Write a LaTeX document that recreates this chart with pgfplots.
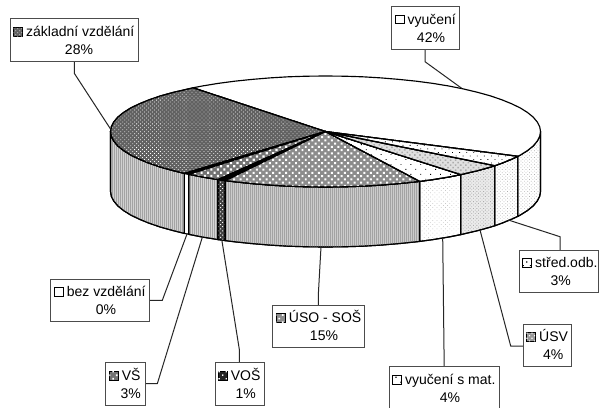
\documentclass[border=0pt]{standalone}
\usepackage{fontspec}
\setmainfont{Liberation Sans}
\usepackage{pgfplots}
\pgfplotsset{compat=1.18}
\usetikzlibrary{patterns,patterns.meta}
\tikzset{
 edge/.style={draw=black,line width=1.15pt,line join=round},
 box/.style={draw=black!70,line width=1pt,fill=white},
 lead/.style={draw=black!85,line width=1pt,line join=miter},
 key/.style={draw=black,line width=0.9pt},
 blackdots/.style 2 args={pattern={Dots[radius=#1,distance=#2,angle=45]},pattern color=black},
 whitedots/.style 2 args={pattern={Dots[radius=#1,distance=#2,angle=45]},pattern color=white},
 greydots/.style 2 args={pattern={Dots[radius=#1,distance=#2,angle=45]},pattern color=black!32},
 vstripes/.style={pattern={Lines[angle=90,distance=2pt,line width=0.9pt]},pattern color=black!36},
 txt/.style={font=\fontsize{14}{16}\selectfont,inner sep=0pt,anchor=base west},
 txc/.style={font=\fontsize{14}{16}\selectfont,inner sep=0pt,anchor=base},
}
\pgfplotsset{
 side/.style={edge,fill=#1},
 cap/.style={edge,fill=#1},
}
\begin{document}
\begin{tikzpicture}
\begin{axis}[width=599pt,height=407pt,scale only axis,xmin=0,xmax=599,ymin=0,ymax=407,y dir=reverse,axis lines=none,clip=true]
% background
\addplot[draw=none,fill=white,forget plot] coordinates {(0,0)(599,0)(599,407)(0,407)} \closedcycle;
% sides
\addplot[side=black!18,postaction={vstripes},forget plot] coordinates {(110.5,131.5)(111.3,136.3)(113.8,141.1)(117.8,145.9)(123.5,150.5)(130.6,155)(139.3,159.2)(149.4,163.3)(160.8,167.2)(173.5,170.7)(184.4,173.4)(184.4,233.4)(173.5,230.7)(160.8,227.2)(149.4,223.3)(139.3,219.2)(130.6,215)(123.5,210.5)(117.8,205.9)(113.8,201.1)(111.3,196.3)(110.5,191.5)} --cycle;
\addplot[side=white,forget plot] coordinates {(184.4,173.4)(188.7,174.3)(188.7,234.3)(184.4,233.4)} --cycle;
\addplot[side=black!16,postaction={vstripes},forget plot] coordinates {(188.7,174.3)(202.2,177)(218,179.6)(218,239.6)(202.2,237)(188.7,234.3)} --cycle;
\addplot[side=black!75,postaction={whitedots={0.7pt}{3pt}},forget plot] coordinates {(218,179.6)(225.2,180.6)(225.2,240.6)(218,239.6)} --cycle;
\addplot[side=black!20,postaction={vstripes},forget plot] coordinates {(225.2,180.6)(234.6,181.8)(252,183.6)(269.9,185.1)(288.2,186.2)(306.8,186.8)(325.5,187)(344.2,186.8)(362.8,186.2)(381.1,185.1)(399,183.6)(416.4,181.8)(419.8,181.4)(419.8,241.4)(416.4,241.8)(399,243.6)(381.1,245.1)(362.8,246.2)(344.2,246.8)(325.5,247)(306.8,246.8)(288.2,246.2)(269.9,245.1)(252,243.6)(234.6,241.8)(225.2,240.6)} --cycle;
\addplot[side=white,postaction={greydots={0.4pt}{3pt}},forget plot] coordinates {(419.8,181.4)(433,179.6)(448.8,177)(460.8,174.6)(460.8,234.6)(448.8,237)(433,239.6)(419.8,241.4)} --cycle;
\addplot[side=black!8,postaction={greydots={0.6pt}{2.4pt}},forget plot] coordinates {(460.8,174.6)(477.5,170.7)(490.2,167.2)(494.9,165.7)(494.9,225.7)(490.2,227.2)(477.5,230.7)(460.8,234.6)} --cycle;
\addplot[side=white,postaction={greydots={0.5pt}{2.4pt}},forget plot] coordinates {(494.9,165.7)(501.6,163.3)(511.7,159.2)(517.9,156.3)(517.9,216.3)(511.7,219.2)(501.6,223.3)(494.9,225.7)} --cycle;
\addplot[side=white,postaction={greydots={0.5pt}{2.4pt}},forget plot] coordinates {(517.9,156.3)(520.4,155)(527.5,150.5)(533.2,145.9)(537.2,141.1)(539.7,136.3)(540.5,131.5)(540.5,191.5)(539.7,196.3)(537.2,201.1)(533.2,205.9)(527.5,210.5)(520.4,215)(517.9,216.3)} --cycle;
% top faces
\addplot[cap=white,forget plot] coordinates {(325.5,131.5)(517.9,156.3)(520.4,155)(527.5,150.5)(533.2,145.9)(537.2,141.1)(539.7,136.3)(540.5,131.5)(539.7,126.7)(537.2,121.9)(533.2,117.1)(527.5,112.5)(520.4,108)(511.7,103.8)(501.6,99.7)(490.2,95.8)(477.5,92.3)(463.7,89)(448.8,86)(433,83.4)(416.4,81.2)(399,79.4)(381.1,77.9)(362.8,76.8)(344.2,76.2)(325.5,76)(306.8,76.2)(288.2,76.8)(269.9,77.9)(252,79.4)(234.6,81.2)(218,83.4)(202.2,86)(193.1,87.8)} --cycle;
\addplot[cap=black!62,postaction={whitedots={0.55pt}{2.8pt}},forget plot] coordinates {(325.5,131.5)(193.1,87.8)(173.5,92.3)(160.8,95.8)(149.4,99.7)(139.3,103.8)(130.6,108)(123.5,112.5)(117.8,117.1)(113.8,121.9)(111.3,126.7)(110.5,131.5)(111.3,136.3)(113.8,141.1)(117.8,145.9)(123.5,150.5)(130.6,155)(139.3,159.2)(149.4,163.3)(160.8,167.2)(173.5,170.7)(184.4,173.4)} --cycle;
\addplot[cap=black,forget plot] coordinates {(325.5,131.5)(184.4,173.4)(188.7,174.3)} --cycle;
\addplot[cap=black!55,postaction={whitedots={1.5pt}{4.6pt}},forget plot] coordinates {(325.5,131.5)(188.7,174.3)(202.2,177)(218,179.6)} --cycle;
\addplot[cap=black,forget plot] coordinates {(325.5,131.5)(218,179.6)(225.2,180.6)} --cycle;
\addplot[cap=black!45,postaction={whitedots={1.4pt}{4.6pt}},forget plot] coordinates {(325.5,131.5)(225.2,180.6)(234.6,181.8)(252,183.6)(269.9,185.1)(288.2,186.2)(306.8,186.8)(325.5,187)(344.2,186.8)(362.8,186.2)(381.1,185.1)(399,183.6)(416.4,181.8)(419.8,181.4)} --cycle;
\addplot[cap=white,postaction={blackdots={0.6pt}{7pt}},forget plot] coordinates {(325.5,131.5)(419.8,181.4)(433,179.6)(448.8,177)(460.8,174.6)} --cycle;
\addplot[cap=black!12,postaction={greydots={1.1pt}{3.6pt}},forget plot] coordinates {(325.5,131.5)(460.8,174.6)(477.5,170.7)(490.2,167.2)(494.9,165.7)} --cycle;
\addplot[cap=white,postaction={blackdots={0.6pt}{5pt}},forget plot] coordinates {(325.5,131.5)(494.9,165.7)(501.6,163.3)(511.7,159.2)(517.9,156.3)} --cycle;
% leader lines
\addplot[lead,forget plot] coordinates {(74.3,61)(74.3,73.3)(110.7,129.3)};
\addplot[lead,forget plot] coordinates {(425,49)(425,61.7)(461.7,88.3)};
\addplot[lead,forget plot] coordinates {(149.3,300.3)(162.3,300.3)(187.3,233.3)};
\addplot[lead,forget plot] coordinates {(145.3,383.7)(157.3,383.7)(202.3,237.3)};
\addplot[lead,forget plot] coordinates {(239.3,362.7)(239.3,349.3)(221.7,239.3)};
\addplot[lead,forget plot] coordinates {(318.3,305.3)(318.3,295)(321,246.7)};
\addplot[lead,forget plot] coordinates {(444,366.7)(444,350)(442.7,237.7)};
\addplot[lead,forget plot] coordinates {(523.3,346)(510.7,346)(480,230)};
\addplot[lead,forget plot] coordinates {(560,250.3)(560,236.7)(508.3,220)};
% label boxes
\draw[box] (axis cs:10.7,18.7) rectangle (axis cs:138.3,61);
\draw[key,fill=black!62,postaction={whitedots={0.55pt}{2.8pt}}] (axis cs:13.7,27.5) rectangle (axis cs:22.7,36);
\node[txt] at (axis cs:26,36) {základní vzdělání};
\node[txc] at (axis cs:79,54) {28\%};
\draw[box] (axis cs:391.7,6.7) rectangle (axis cs:459.3,49);
\draw[key,fill=white] (axis cs:395.7,15) rectangle (axis cs:404,23.3);
\node[txt] at (axis cs:407.3,24) {vyučení};
\node[txc] at (axis cs:431,42) {42\%};
\draw[box] (axis cs:50.7,279) rectangle (axis cs:149.3,321.3);
\draw[key,fill=white] (axis cs:54.3,287.3) rectangle (axis cs:63.3,296);
\node[txt] at (axis cs:66.7,296.5) {bez vzdělání};
\node[txc] at (axis cs:106,314.5) {0\%};
\draw[box] (axis cs:105.7,362.7) rectangle (axis cs:145.3,405);
\draw[key,fill=black!55,postaction={whitedots={1.2pt}{5pt}}] (axis cs:109.3,371) rectangle (axis cs:118.3,380);
\node[txt] at (axis cs:121.7,380) {VŠ};
\node[txc] at (axis cs:130.7,398) {3\%};
\draw[box] (axis cs:215.3,362.7) rectangle (axis cs:264.3,405);
\draw[key,fill=black!85,postaction={whitedots={1pt}{5pt}}] (axis cs:218.3,371) rectangle (axis cs:227.3,380);
\node[txt] at (axis cs:230.7,380) {VOŠ};
\node[txc] at (axis cs:245.7,398) {1\%};
\draw[box] (axis cs:272.7,305.3) rectangle (axis cs:364.3,347.3);
\draw[key,fill=black!45,postaction={whitedots={1.2pt}{5pt}}] (axis cs:276.3,313.3) rectangle (axis cs:285.3,322.3);
\node[txt] at (axis cs:288.7,322.5) {ÚSO - SOŠ};
\node[txc] at (axis cs:324,340.5) {15\%};
\draw[box] (axis cs:519.3,250.3) rectangle (axis cs:598.7,292);
\draw[key,fill=white,postaction={blackdots={0.8pt}{5pt}}] (axis cs:522.7,258.3) rectangle (axis cs:531.7,267);
\node[txt] at (axis cs:535,267.5) {střed.odb.};
\node[txc] at (axis cs:560.7,285.5) {3\%};
\draw[box] (axis cs:523.3,324.3) rectangle (axis cs:571.3,366.7);
\draw[key,fill=black!40,postaction={whitedots={0.8pt}{3.6pt}}] (axis cs:526,332.3) rectangle (axis cs:535,341);
\node[txt] at (axis cs:539,341.5) {ÚSV};
\node[txc] at (axis cs:553.3,359.5) {4\%};
\draw[box] (axis cs:389.3,366.7) rectangle (axis cs:499,420);
\draw[key,fill=white,postaction={blackdots={0.8pt}{7pt}}] (axis cs:392.7,375) rectangle (axis cs:401.7,384);
\node[txt] at (axis cs:405,384.5) {vyučení s mat.};
\node[txc] at (axis cs:450,402.5) {4\%};
\end{axis}
\end{tikzpicture}
\end{document}
